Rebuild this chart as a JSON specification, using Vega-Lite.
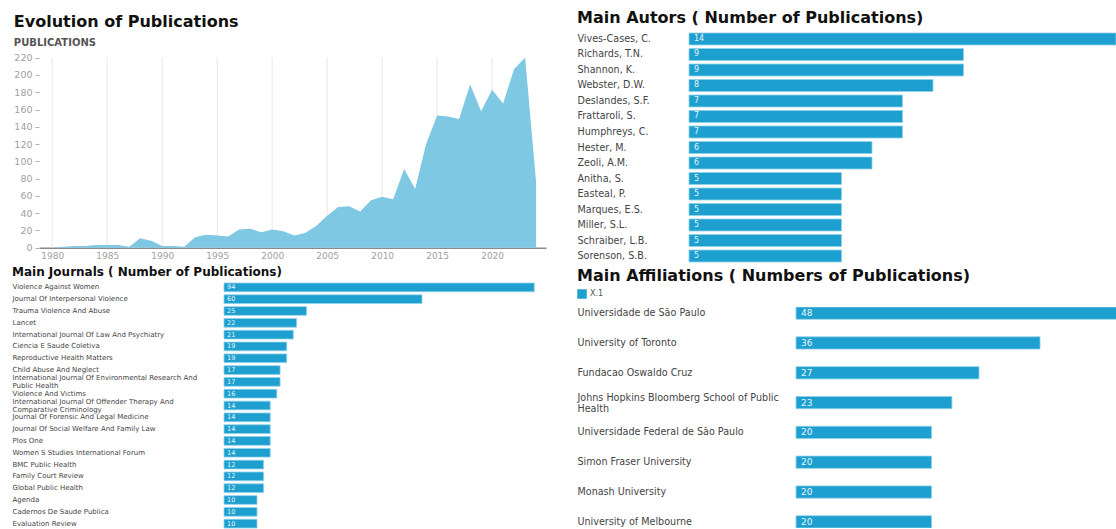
{
  "$schema": "https://vega.github.io/schema/vega-lite/v6.json",
  "background": "white",
  "padding": {"left": 12, "top": 10, "right": 0, "bottom": 0},
  "config": {
    "view": {"stroke": null},
    "font": "DejaVu Sans",
    "title": {"font": "DejaVu Sans", "fontWeight": "bold", "color": "#111111", "anchor": "start"},
    "axis": {"labelFont": "DejaVu Sans", "titleFont": "DejaVu Sans"},
    "legend": {"labelFont": "DejaVu Sans"}
  },
  "datasets": {
    "years": [
      {"year": 1980, "pubs": 0}, {"year": 1981, "pubs": 1}, {"year": 1982, "pubs": 2}, {"year": 1983, "pubs": 2},
      {"year": 1984, "pubs": 3}, {"year": 1985, "pubs": 3}, {"year": 1986, "pubs": 3}, {"year": 1987, "pubs": 1},
      {"year": 1988, "pubs": 11}, {"year": 1989, "pubs": 8}, {"year": 1990, "pubs": 2}, {"year": 1991, "pubs": 2},
      {"year": 1992, "pubs": 1}, {"year": 1993, "pubs": 12}, {"year": 1994, "pubs": 15}, {"year": 1995, "pubs": 14},
      {"year": 1996, "pubs": 13}, {"year": 1997, "pubs": 21}, {"year": 1998, "pubs": 22}, {"year": 1999, "pubs": 18},
      {"year": 2000, "pubs": 21}, {"year": 2001, "pubs": 19}, {"year": 2002, "pubs": 14}, {"year": 2003, "pubs": 17},
      {"year": 2004, "pubs": 25}, {"year": 2005, "pubs": 37}, {"year": 2006, "pubs": 47}, {"year": 2007, "pubs": 48},
      {"year": 2008, "pubs": 42}, {"year": 2009, "pubs": 55}, {"year": 2010, "pubs": 59}, {"year": 2011, "pubs": 56},
      {"year": 2012, "pubs": 91}, {"year": 2013, "pubs": 68}, {"year": 2014, "pubs": 120}, {"year": 2015, "pubs": 153},
      {"year": 2016, "pubs": 152}, {"year": 2017, "pubs": 149}, {"year": 2018, "pubs": 189}, {"year": 2019, "pubs": 158},
      {"year": 2020, "pubs": 183}, {"year": 2021, "pubs": 167}, {"year": 2022, "pubs": 207}, {"year": 2023, "pubs": 220},
      {"year": 2024, "pubs": 76}
    ],
    "gridYears": [
      {"year": 1980}, {"year": 1985}, {"year": 1990}, {"year": 1995}, {"year": 2000},
      {"year": 2005}, {"year": 2010}, {"year": 2015}, {"year": 2020}
    ],
    "authors": [
      {"author": "Vives-Cases, C.", "n": 14}, {"author": "Richards, T.N.", "n": 9}, {"author": "Shannon, K.", "n": 9},
      {"author": "Webster, D.W.", "n": 8}, {"author": "Deslandes, S.F.", "n": 7}, {"author": "Frattaroli, S.", "n": 7},
      {"author": "Humphreys, C.", "n": 7}, {"author": "Hester, M.", "n": 6}, {"author": "Zeoli, A.M.", "n": 6},
      {"author": "Anitha, S.", "n": 5}, {"author": "Easteal, P.", "n": 5}, {"author": "Marques, E.S.", "n": 5},
      {"author": "Miller, S.L.", "n": 5}, {"author": "Schraiber, L.B.", "n": 5}, {"author": "Sorenson, S.B.", "n": 5}
    ],
    "journals": [
      {"journal": "Violence Against Women", "n": 94},
      {"journal": "Journal Of Interpersonal Violence", "n": 60},
      {"journal": "Trauma Violence And Abuse", "n": 25},
      {"journal": "Lancet", "n": 22},
      {"journal": "International Journal Of Law And Psychiatry", "n": 21},
      {"journal": "Ciencia E Saude Coletiva", "n": 19},
      {"journal": "Reproductive Health Matters", "n": 19},
      {"journal": "Child Abuse And Neglect", "n": 17},
      {"journal": "International Journal Of Environmental Research And Public Health", "n": 17},
      {"journal": "Violence And Victims", "n": 16},
      {"journal": "International Journal Of Offender Therapy And Comparative Criminology", "n": 14},
      {"journal": "Journal Of Forensic And Legal Medicine", "n": 14},
      {"journal": "Journal Of Social Welfare And Family Law", "n": 14},
      {"journal": "Plos One", "n": 14},
      {"journal": "Women S Studies International Forum", "n": 14},
      {"journal": "BMC Public Health", "n": 12},
      {"journal": "Family Court Review", "n": 12},
      {"journal": "Global Public Health", "n": 12},
      {"journal": "Agenda", "n": 10},
      {"journal": "Cadernos De Saude Publica", "n": 10},
      {"journal": "Evaluation Review", "n": 10}
    ],
    "affiliations": [
      {"affiliation": "Universidade de São Paulo", "n": 48, "series": "X.1"},
      {"affiliation": "University of Toronto", "n": 36, "series": "X.1"},
      {"affiliation": "Fundacao Oswaldo Cruz", "n": 27, "series": "X.1"},
      {"affiliation": "Johns Hopkins Bloomberg School of Public Health", "n": 23, "series": "X.1"},
      {"affiliation": "Universidade Federal de São Paulo", "n": 20, "series": "X.1"},
      {"affiliation": "Simon Fraser University", "n": 20, "series": "X.1"},
      {"affiliation": "Monash University", "n": 20, "series": "X.1"},
      {"affiliation": "University of Melbourne", "n": 20, "series": "X.1"}
    ]
  },
  "spacing": 31,
  "resolve": {"scale": {"color": "independent"}, "legend": {"color": "independent"}},
  "hconcat": [
    {
      "spacing": 4,
      "vconcat": [
        {
          "title": {
            "text": "Evolution of Publications", "subtitle": "PUBLICATIONS",
            "fontSize": 16, "subtitleFontSize": 10, "subtitleColor": "#555555", "subtitleFontWeight": "bold",
            "subtitleFont": "DejaVu Sans", "subtitlePadding": 8, "offset": -15
          },
          "width": 507,
          "height": 214.7,
          "encoding": {
            "x": {
              "field": "year", "type": "quantitative",
              "scale": {"domain": [1978.8, 2024.9], "nice": false, "zero": false},
              "axis": {
                "values": [1980, 1985, 1990, 1995, 2000, 2005, 2010, 2015, 2020], "format": "d", "title": null,
                "grid": false, "ticks": false, "domainColor": "#8a8a8a", "domainWidth": 1.5,
                "labelColor": "#a0a0a0", "labelFontSize": 9, "labelPadding": 4
              }
            }
          },
          "layer": [
            {
              "data": {"name": "gridYears"},
              "mark": {"type": "rule", "color": "#e6e6e6", "strokeWidth": 1},
              "encoding": {
                "y": {
                  "datum": 0, "type": "quantitative",
                  "scale": {"domain": [0, 248.6], "nice": false},
                  "axis": {
                    "values": [0, 20, 40, 60, 80, 100, 120, 140, 160, 180, 200, 220], "title": null,
                    "grid": false, "domain": false, "tickColor": "#b0b0b0", "tickSize": 4, "labelOverlap": false,
                    "labelColor": "#a0a0a0", "labelFontSize": 9.5, "labelPadding": 3
                  }
                },
                "y2": {"datum": 220}
              }
            },
            {
              "data": {"name": "years"},
              "mark": {"type": "area", "color": "#7ec8e3", "opacity": 1},
              "encoding": {
                "y": {
                  "field": "pubs", "type": "quantitative",
                  "scale": {"domain": [0, 248.6], "nice": false},
                  "axis": {
                    "values": [0, 20, 40, 60, 80, 100, 120, 140, 160, 180, 200, 220], "title": null,
                    "grid": false, "domain": false, "tickColor": "#b0b0b0", "tickSize": 4, "labelOverlap": false,
                    "labelColor": "#a0a0a0", "labelFontSize": 9.5, "labelPadding": 3
                  }
                }
              }
            }
          ]
        },
        {
          "data": {"name": "journals"},
          "title": {"text": "Main Journals ( Number of Publications)", "fontSize": 12, "offset": 4},
          "width": 496,
          "height": 245,
          "encoding": {
            "y": {
              "field": "journal", "type": "nominal", "sort": null,
              "scale": {"paddingInner": 0.26, "paddingOuter": 0},
              "axis": {
                "title": null, "ticks": false, "domain": false, "labelAlign": "left", "labelPadding": 27,
                "labelFontSize": 7, "labelColor": "#444444", "labelLimit": 230, "labelLineHeight": 8,
                "labelOffset": {"condition": {"test": "length(datum.label) > 50", "value": -4}, "value": 0},
                "labelExpr": "length(datum.label) > 50 ? [slice(datum.label, 0, lastindexof(datum.label, ' And ') + 4), slice(datum.label, lastindexof(datum.label, ' And ') + 5)] : datum.label"
              }
            },
            "x": {"field": "n", "type": "quantitative", "scale": {"domain": [-56.06, 94.24], "nice": false, "zero": false}, "axis": null}
          },
          "layer": [
            {
              "mark": {"type": "bar", "color": "#1d9fcf", "stroke": "#8fd2ea", "strokeWidth": 0.8},
              "encoding": {"x2": {"datum": 0}}
            },
            {
              "mark": {"type": "text", "align": "left", "baseline": "middle", "dx": 3, "color": "#e8f5fb", "fontSize": 6.5},
              "encoding": {"x": {"datum": 0, "type": "quantitative"}, "text": {"field": "n", "type": "quantitative"}}
            }
          ]
        }
      ]
    },
    {
      "spacing": 4,
      "resolve": {"scale": {"color": "independent"}, "legend": {"color": "independent"}},
      "vconcat": [
        {
          "data": {"name": "authors"},
          "title": {"text": "Main Autors ( Number of Publications)", "fontSize": 16, "offset": 6.5},
          "width": 427,
          "height": 229,
          "encoding": {
            "y": {
              "field": "author", "type": "nominal", "sort": null,
              "scale": {"paddingInner": 0.226, "paddingOuter": 0},
              "axis": {
                "title": null, "ticks": false, "domain": false, "labelAlign": "left", "labelPadding": 112,
                "labelFontSize": 9.6, "labelColor": "#444444", "labelLimit": 120
              }
            },
            "x": {"field": "n", "type": "quantitative", "scale": {"domain": [0, 14], "nice": false}, "axis": null}
          },
          "layer": [
            {"mark": {"type": "bar", "color": "#1d9fcf", "stroke": "#8fd2ea", "strokeWidth": 0.8}},
            {
              "mark": {"type": "text", "align": "left", "baseline": "middle", "dx": 5, "color": "#e8f5fb", "fontSize": 8},
              "encoding": {"x": {"datum": 0, "type": "quantitative"}, "text": {"field": "n", "type": "quantitative"}}
            }
          ]
        },
        {
          "data": {"name": "affiliations"},
          "title": {"text": "Main Affiliations ( Numbers of Publications)", "fontSize": 16, "offset": 5.5},
          "width": 427,
          "height": 221,
          "resolve": {"scale": {"color": "independent"}, "legend": {"color": "independent"}},
          "encoding": {
            "y": {
              "field": "affiliation", "type": "nominal", "sort": null,
              "scale": {"paddingInner": 0.588, "paddingOuter": 0},
              "axis": {
                "title": null, "ticks": false, "domain": false, "labelAlign": "left", "labelPadding": 112,
                "labelFontSize": 9.6, "labelColor": "#444444", "labelLimit": 230, "labelLineHeight": 11,
                "labelOffset": {"condition": {"test": "length(datum.label) > 40", "value": -5}, "value": 0},
                "labelExpr": "length(datum.label) > 40 ? [slice(datum.label, 0, lastindexof(datum.label, ' ')), slice(datum.label, lastindexof(datum.label, ' ') + 1)] : datum.label"
              }
            },
            "x": {"field": "n", "type": "quantitative", "scale": {"domain": [-15.79, 47.21], "nice": false, "zero": false}, "axis": null}
          },
          "layer": [
            {
              "mark": {"type": "bar", "stroke": "#8fd2ea", "strokeWidth": 0.8, "clip": true},
              "encoding": {
                "x2": {"datum": 0},
                "color": {
                  "field": "series", "type": "nominal",
                  "scale": {"range": ["#1d9fcf"]},
                  "legend": {
                    "title": null, "orient": "none", "legendX": -112, "legendY": -18,
                    "symbolType": "square", "symbolSize": 90, "symbolStrokeWidth": 0,
                    "labelFontSize": 8, "labelColor": "#555555", "labelOffset": 3
                  }
                }
              }
            },
            {
              "mark": {"type": "text", "align": "left", "baseline": "middle", "dx": 5, "color": "#e8f5fb", "fontSize": 9},
              "encoding": {"x": {"datum": 0, "type": "quantitative"}, "text": {"field": "n", "type": "quantitative"}}
            }
          ]
        }
      ]
    }
  ]
}
